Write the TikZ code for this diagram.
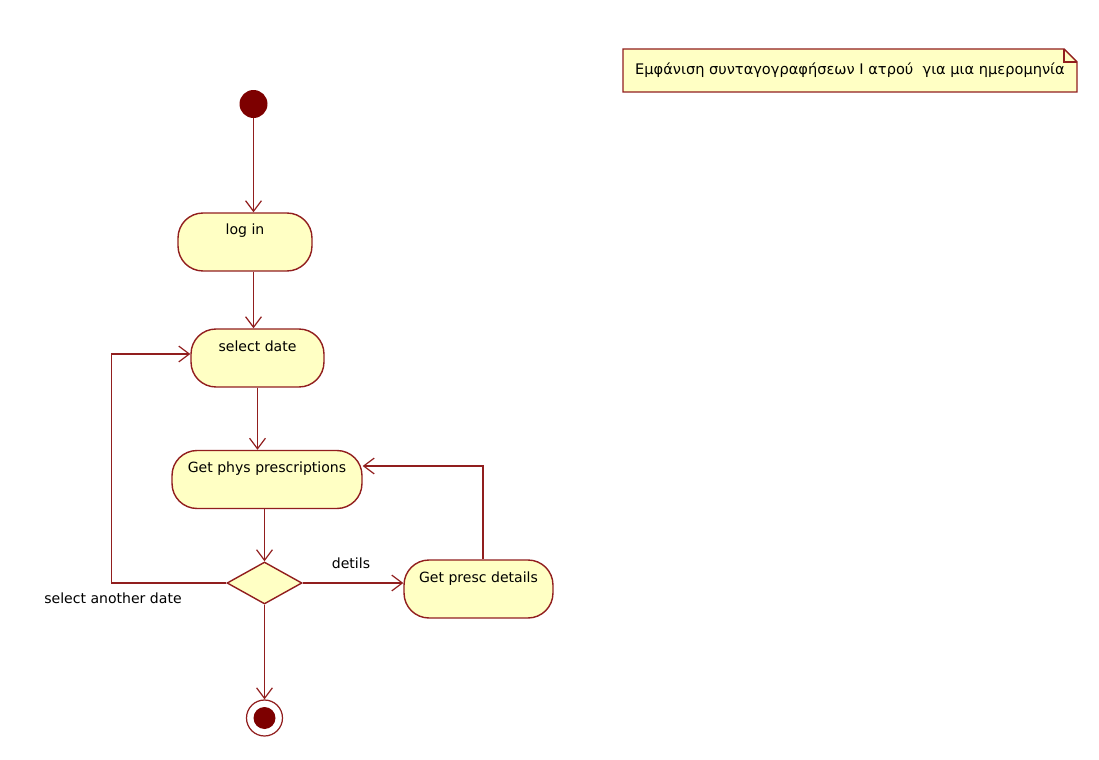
\documentclass[tikz,border=0pt]{standalone}
\usepackage{fontspec}
\setmainfont{DejaVu Sans}
\usetikzlibrary{arrows.meta,shapes.geometric}

\definecolor{umlred}{RGB}{145,30,30}
\definecolor{umlfill}{RGB}{255,255,196}
\definecolor{umldot}{RGB}{125,0,0}

\tikzset{
  action/.style={draw=umlred,line width=0.8pt,fill=umlfill,rounded corners=0.5cm,inner sep=0pt,
    minimum height=1.16cm,text height=0.44cm,text depth=0.72cm},
  decision/.style={diamond,draw=umlred,line width=0.8pt,fill=umlfill,inner sep=0pt,
    minimum width=1.5cm,minimum height=0.84cm},
  flow/.style={draw=umlred,line width=0.7pt,-{Straight Barb[length=6pt,width=9pt]}},
  guard/.style={inner sep=1pt}
}

\begin{document}
\begin{tikzpicture}[x=0.02cm,y=-0.02cm,font=\fontsize{8}{9.5}\selectfont]
    \useasboundingbox (0,0) rectangle (1099,760);

    % Note
    \draw[umlred,line width=0.8pt,fill=umlfill] (623,49) -- (1064,49) -- (1077,62) -- (1077,92) -- (623,92) -- cycle;
    \draw[umlred,line width=0.8pt] (1064,49) -- (1064,62) -- (1077,62);
    \node[anchor=west,font=\fontsize{8.3}{9.5}\selectfont] (note) at (629,70) {Εμφάνιση συνταγογραφήσεων Ι ατρού\ \ για μια ημερομηνία};

    % Start and end
    \node[circle,fill=umldot,minimum size=0.56cm,inner sep=0pt] (start) at (253.5,104) {};
    \node[circle,draw=umlred,line width=0.7pt,fill=white,minimum size=0.72cm,inner sep=0pt] (final) at (264.5,718) {};
    \fill[umldot] (final) circle (0.22cm);

    % Actions
    \node[action,minimum width=2.68cm] (login) at (245,242) {log in};
    \node[action,minimum width=2.66cm] (select) at (257.5,358) {select date};
    \node[action,minimum width=3.8cm] (phys) at (267,479.5) {Get phys prescriptions};
    \node[action,minimum width=2.98cm] (presc) at (478.5,589) {Get presc details};
    \node[decision] (choice) at (264.5,583) {};

    % Flows
    \draw[flow] (start) -- (start |- login.north);
    \draw[flow] (start |- login.south) -- (start |- select.north);
    \draw[flow] (select.south) -- (select.south |- phys.north);
    \draw[flow] (choice |- phys.south) -- (choice.north);
    \draw[flow] (choice.south) -- (final.north);
    \draw[flow] (choice.east) -- (choice.east -| presc.west);
    \draw[flow] ([xshift=0.09cm]presc.north) |- ([yshift=0.27cm]phys.east);
    \coordinate (loopl) at (111.5,583);
    \draw[flow] (choice.west) -- (loopl) |- ([yshift=0.08cm]select.west);

    % Guards
    \node[guard] (gdet) at (351,563) {detils};
    \node[guard] (gsel) at (113,598) {select another date};
\end{tikzpicture}
\end{document}
